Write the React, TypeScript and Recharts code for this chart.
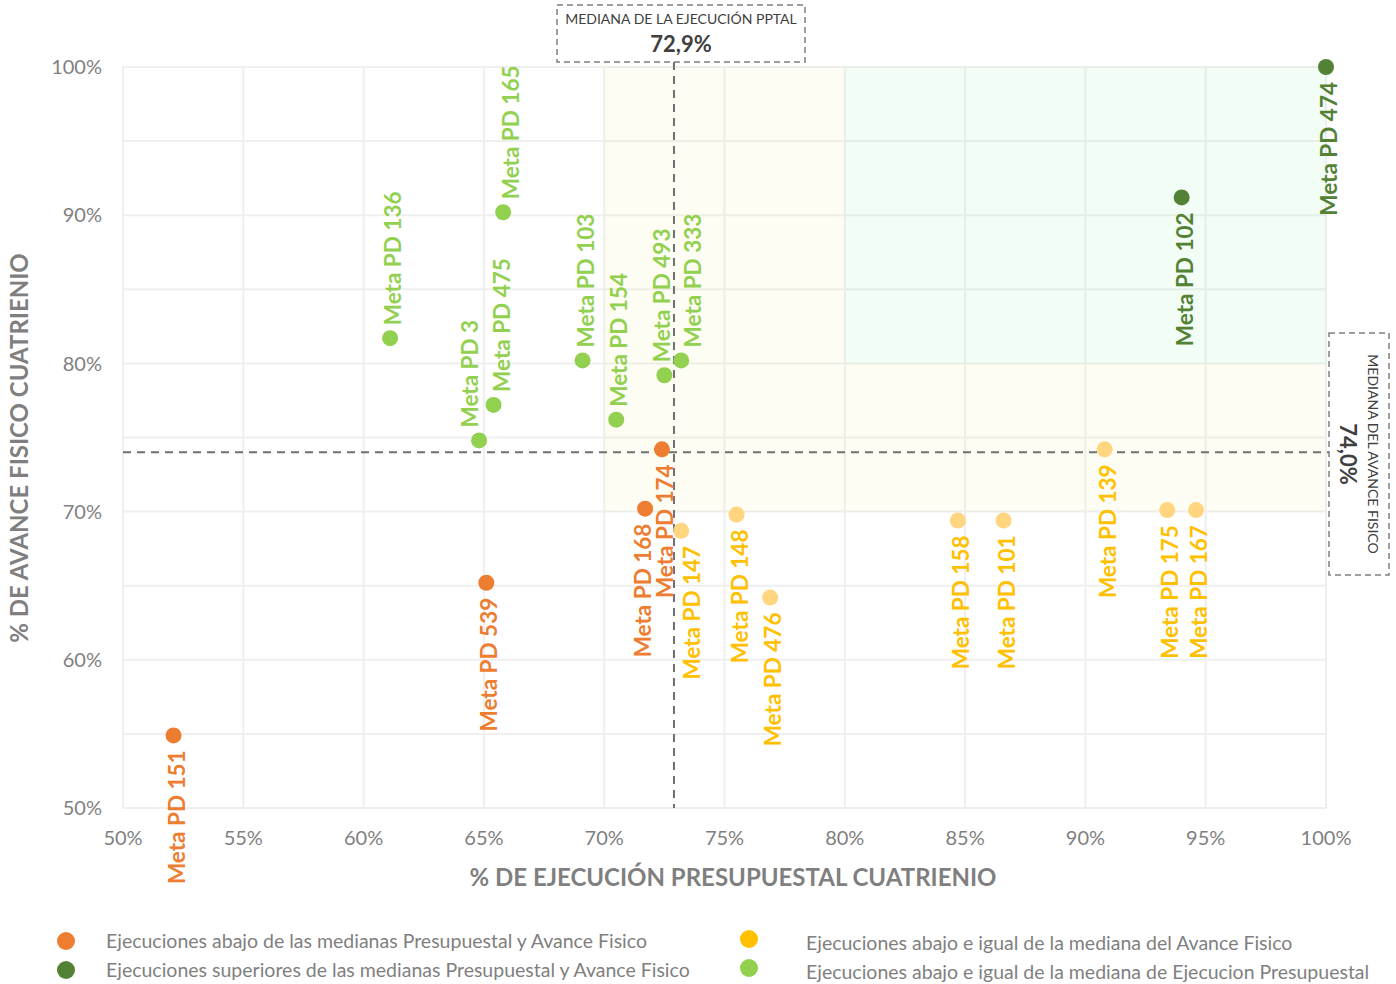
import { ScatterChart, Scatter, XAxis, YAxis, CartesianGrid, ReferenceArea, ReferenceLine } from 'recharts';

// % ejecución presupuestal (x) vs % avance físico (y), por grupo
const abajoAmbas = [
  { meta: 'Meta PD 151', ejec: 52.1, avance: 54.9 },
  { meta: 'Meta PD 539', ejec: 65.1, avance: 65.2 },
  { meta: 'Meta PD 168', ejec: 71.7, avance: 70.2 },
  { meta: 'Meta PD 174', ejec: 72.4, avance: 74.2 },
];

const abajoAvance = [
  { meta: 'Meta PD 147', ejec: 73.2, avance: 68.7 },
  { meta: 'Meta PD 148', ejec: 75.5, avance: 69.8 },
  { meta: 'Meta PD 476', ejec: 76.9, avance: 64.2 },
  { meta: 'Meta PD 158', ejec: 84.7, avance: 69.4 },
  { meta: 'Meta PD 101', ejec: 86.6, avance: 69.4 },
  { meta: 'Meta PD 139', ejec: 90.8, avance: 74.2 },
  { meta: 'Meta PD 175', ejec: 93.4, avance: 70.1 },
  { meta: 'Meta PD 167', ejec: 94.6, avance: 70.1 },
];

const abajoEjecucion = [
  { meta: 'Meta PD 136', ejec: 61.1, avance: 81.7 },
  { meta: 'Meta PD 165', ejec: 65.8, avance: 90.2 },
  { meta: 'Meta PD 3', ejec: 64.8, avance: 74.8 },
  { meta: 'Meta PD 475', ejec: 65.4, avance: 77.2 },
  { meta: 'Meta PD 103', ejec: 69.1, avance: 80.2 },
  { meta: 'Meta PD 154', ejec: 70.5, avance: 76.2 },
  { meta: 'Meta PD 493', ejec: 72.5, avance: 79.2 },
  { meta: 'Meta PD 333', ejec: 73.2, avance: 80.2 },
];

const superiores = [
  { meta: 'Meta PD 474', ejec: 100, avance: 100 },
  { meta: 'Meta PD 102', ejec: 94.0, avance: 91.2 },
];

const xTicks = [50, 55, 60, 65, 70, 75, 80, 85, 90, 95, 100];
const yTicks = [50, 55, 60, 65, 70, 75, 80, 85, 90, 95, 100];

const medianaEjecucion = 72.9;
const medianaAvance = 74.0;

const legendItems = [
  { label: 'Ejecuciones abajo de las medianas Presupuestal y Avance Fisico', color: '#ED7D31' },
  { label: 'Ejecuciones superiores de las medianas Presupuestal y Avance Fisico', color: '#548235' },
  { label: 'Ejecuciones abajo e igual de la mediana del Avance Fisico', color: '#FFC000' },
  { label: 'Ejecuciones abajo e igual de la mediana de Ejecucion Presupuestal', color: '#92D050' },
];

// small horizontal nudges so overlapping labels stay readable
const labelNudge: Record<string, number> = {
  'Meta PD 147': 8,
  'Meta PD 168': -5,
  'Meta PD 3': -12,
  'Meta PD 493': -5,
  'Meta PD 333': 9,
  'Meta PD 165': 5,
  'Meta PD 475': 5,
};

const FONT = 'Lato, "Open Sans", sans-serif';
const GRAY = '#7f7f7f';

function makeDot(fill: string, labelColor: string, above: boolean) {
  return (props: any) => {
    const { cx, cy, payload } = props;
    if (cx == null || cy == null) return <g />;
    const dx = 3 + (labelNudge[payload.meta] ?? 0);
    const ly = above ? cy - 13 : cy + 15;
    return (
      <g>
        <circle cx={cx} cy={cy} r={8} fill={fill} />
        <text
          transform={`translate(${cx + dx}, ${ly}) rotate(-90)`}
          textAnchor={above ? 'start' : 'end'}
          dy="0.36em"
          fontFamily={FONT}
          fontWeight={700}
          fontSize={22.5}
          fill={labelColor}
        >
          {payload.meta}
        </text>
      </g>
    );
  };
}

export default function App() {
  return (
    <div style={{ position: 'absolute', left: 0, top: 0, width: 1396, height: 984, background: '#fff', fontFamily: FONT }}>
      <ScatterChart width={1396} height={984} margin={{ top: 67, right: 70, bottom: 116, left: 0 }}>
        <CartesianGrid stroke="#efefef" strokeWidth={2} />
        <ReferenceArea x1={70} x2={80} y1={70} y2={100} fill="#F2E88A" fillOpacity={0.1} stroke="none" />
        <ReferenceArea x1={80} x2={100} y1={70} y2={80} fill="#F2E88A" fillOpacity={0.1} stroke="none" />
        <ReferenceArea x1={80} x2={100} y1={80} y2={100} fill="#7EE89A" fillOpacity={0.1} stroke="none" />
        <XAxis
          type="number"
          dataKey="ejec"
          domain={[50, 100]}
          ticks={xTicks}
          axisLine={false}
          tickLine={false}
          tickMargin={17}
          height={60}
          tickFormatter={(v) => `${v}%`}
          tick={{ fill: GRAY, fontSize: 20, fontFamily: FONT }}
        />
        <YAxis
          type="number"
          dataKey="avance"
          domain={[50, 100]}
          ticks={yTicks}
          axisLine={false}
          tickLine={false}
          tickMargin={15}
          width={123}
          tickFormatter={(v) => (v % 10 === 0 ? `${v}%` : '')}
          tick={{ fill: GRAY, fontSize: 20, fontFamily: FONT }}
        />
        <ReferenceLine
          segment={[{ x: medianaEjecucion, y: 100.34 }, { x: medianaEjecucion, y: 50 }]}
          ifOverflow="visible"
          stroke="#6f6f6f"
          strokeWidth={2}
          strokeDasharray="8 6"
        />
        <ReferenceLine
          segment={[{ x: 50, y: medianaAvance }, { x: 100.12, y: medianaAvance }]}
          ifOverflow="visible"
          stroke="#6f6f6f"
          strokeWidth={2}
          strokeDasharray="8 6"
        />
        <Scatter data={abajoEjecucion} isAnimationActive={false} shape={makeDot('#92D050', '#92D050', true)} />
        <Scatter data={abajoAvance} isAnimationActive={false} shape={makeDot('#FFD57F', '#FFC000', false)} />
        <Scatter data={abajoAmbas} isAnimationActive={false} shape={makeDot('#ED7D31', '#ED7D31', false)} />
        <Scatter data={superiores} isAnimationActive={false} shape={makeDot('#548235', '#548235', false)} />
      </ScatterChart>

      <svg width={1396} height={984} style={{ position: 'absolute', left: 0, top: 0, pointerEvents: 'none' }}>
        {/* mediana ejecución */}
        <rect x={557} y={5} width={248} height={57} fill="#fff" stroke="#7f7f7f" strokeWidth={1.5} strokeDasharray="6 4" />
        <text x={681} y={24} textAnchor="middle" fontFamily={FONT} fontSize={14} fill="#404040">
          MEDIANA DE LA EJECUCIÓN PPTAL
        </text>
        <text x={681} y={52} textAnchor="middle" fontFamily={FONT} fontWeight={700} fontSize={22} fill="#404040">
          72,9%
        </text>

        {/* mediana avance */}
        <rect x={1329} y={333} width={60} height={242} fill="#fff" stroke="#7f7f7f" strokeWidth={1.5} strokeDasharray="6 4" />
        <text transform="translate(1368, 454) rotate(90)" textAnchor="middle" fontFamily={FONT} fontSize={14} fill="#404040">
          MEDIANA DEL AVANCE FISICO
        </text>
        <text transform="translate(1340, 454) rotate(90)" textAnchor="middle" fontFamily={FONT} fontWeight={700} fontSize={22} fill="#404040">
          74,0%
        </text>

        {/* axis titles */}
        <text x={733} y={886} textAnchor="middle" fontFamily={FONT} fontWeight={700} fontSize={24} fill={GRAY}>
          % DE EJECUCIÓN PRESUPUESTAL CUATRIENIO
        </text>
        <text transform="translate(28, 448) rotate(-90)" textAnchor="middle" fontFamily={FONT} fontWeight={700} fontSize={24} fill={GRAY}>
          % DE AVANCE FISICO CUATRIENIO
        </text>

        {/* legend */}
        {legendItems.map((item, i) => {
          const col = Math.floor(i / 2);
          const row = i % 2;
          const cx = col === 0 ? 66 : 749;
          const cy = (col === 0 ? 941 : 939) + row * 29;
          const tx = col === 0 ? 106 : 806;
          const ty = (col === 0 ? 941 : 943) + row * 29;
          return (
            <g key={item.label}>
              <circle cx={cx} cy={cy} r={9} fill={item.color} />
              <text x={tx} y={ty} dy="0.35em" fontFamily={FONT} fontSize={19.5} fill={GRAY}>
                {item.label}
              </text>
            </g>
          );
        })}
      </svg>
    </div>
  );
}
